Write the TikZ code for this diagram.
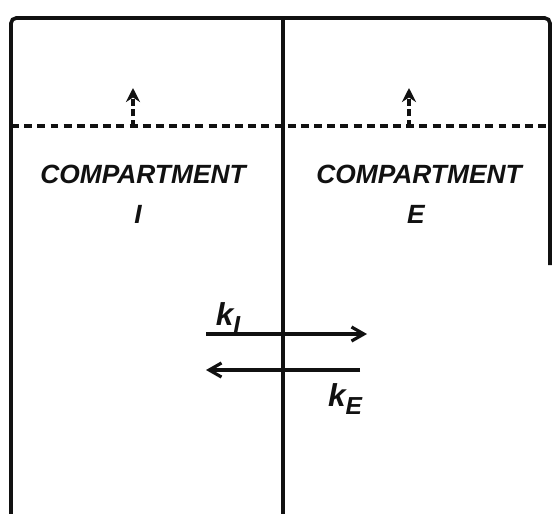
\documentclass[tikz,border=0pt]{standalone}
\usepackage{fontspec}
\setmainfont{Liberation Sans}
\usetikzlibrary{arrows.meta}
\definecolor{ink}{HTML}{111111}

\begin{document}
\begin{tikzpicture}[x=0.02cm,y=-0.02cm]
  \tikzset{
    pared/.style={draw=ink,line width=2.1pt},
    nivel/.style={draw=ink,line width=1.8pt,dash pattern=on 4.5pt off 3pt},
    sube/.style={draw=ink,line width=1.8pt,dash pattern=on 4pt off 2pt,-{Stealth[length=8pt,width=8pt]}},
    flujo/.style={draw=ink,line width=1.8pt,-{Straight Barb[length=7pt,width=8pt,line width=1.8pt]}},
    rotulo/.style={font=\fontsize{15}{17}\selectfont\bfseries\itshape,text=ink,inner sep=0pt},
    tasa/.style={font=\fontsize{18}{20}\selectfont\bfseries\itshape,text=ink,inner sep=0pt}
  }
  \useasboundingbox (0,0) rectangle (552,514);
  % walls of the vessel
  \coordinate (bl) at (11,514);
  \coordinate (tl) at (11,18);
  \coordinate (tr) at (550,18);
  \coordinate (rb) at (550,265);
  \coordinate (mt) at (283,18);
  \coordinate (mb) at (283,514);
  \draw[pared,rounded corners=3pt] (bl) -- (tl) -- (tr) -- (rb);
  \draw[pared] (mt) -- (mb);
  % level line and rising arrows
  \coordinate (nl) at (11,126);
  \coordinate (nr) at (552,126);
  \draw[nivel] (nl) -- (nr);
  \coordinate (a0) at (133,127);
  \coordinate (a1) at (133,88);
  \coordinate (b0) at (409,127);
  \coordinate (b1) at (409,88);
  \draw[sube] (a0) -- (a1);
  \draw[sube] (b0) -- (b1);
  % labels
  \node[rotulo] (ci) at (143,174) {COMPARTMENT};
  \node[rotulo] (ni) at (138,214) {I};
  \node[rotulo] (ce) at (419,174) {COMPARTMENT};
  \node[rotulo] (ne) at (416,214) {E};
  % exchange
  \coordinate (p0) at (206,334);
  \coordinate (p1) at (367,334);
  \coordinate (q0) at (360,370);
  \coordinate (q1) at (206,370);
  \draw[flujo] (p0) -- (p1);
  \draw[flujo] (q0) -- (q1);
  \node[tasa] (ki) at (228,318) {k\raisebox{-0.45ex}{\fontsize{14}{15}\selectfont I}};
  \node[tasa] (ke) at (345,399) {k\raisebox{-0.45ex}{\fontsize{14}{15}\selectfont E}};
\end{tikzpicture}
\end{document}
